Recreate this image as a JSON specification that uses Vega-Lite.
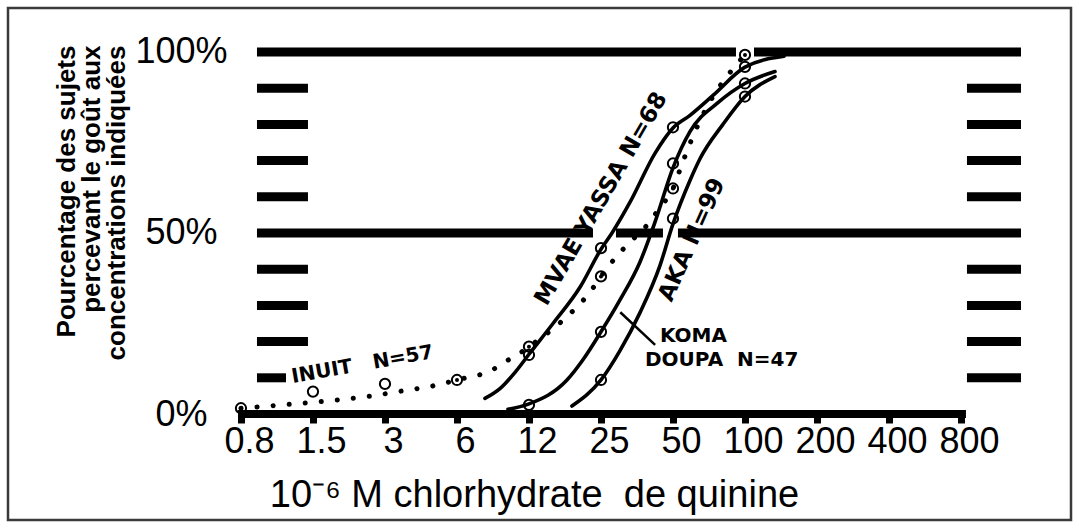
{
  "$schema": "https://vega.github.io/schema/vega-lite/v6.json",
  "width": 1063,
  "height": 512,
  "autosize": {"type": "none"},
  "padding": {"left": 8, "top": 8, "right": 8, "bottom": 8},
  "background": "white",
  "config": {
    "view": {"stroke": "#3a3a3a", "strokeWidth": 2.5},
    "font": "Liberation Sans",
    "axis": {"labelColor": "black", "titleColor": "black"}
  },
  "datasets": {
    "bars": [
      {"conc": 0.9113, "conc2": 91.7, "pct": 100},
      {"conc": 109.06, "conc2": 1425.5, "pct": 100},
      {"conc": 0.9113, "conc2": 23.15, "pct": 50},
      {"conc": 28.88, "conc2": 45.4, "pct": 50},
      {"conc": 52.45, "conc2": 1425.5, "pct": 50},
      {"conc": 0.9113, "conc2": 1.489, "pct": 90},
      {"conc": 0.9113, "conc2": 1.489, "pct": 80},
      {"conc": 0.9113, "conc2": 1.489, "pct": 70},
      {"conc": 0.9113, "conc2": 1.489, "pct": 60},
      {"conc": 0.9113, "conc2": 1.489, "pct": 40},
      {"conc": 0.9113, "conc2": 1.489, "pct": 30},
      {"conc": 0.9113, "conc2": 1.489, "pct": 20},
      {"conc": 0.9113, "conc2": 1.205, "pct": 10},
      {"conc": 847.4, "conc2": 1425.5, "pct": 90},
      {"conc": 847.4, "conc2": 1425.5, "pct": 80},
      {"conc": 847.4, "conc2": 1425.5, "pct": 70},
      {"conc": 847.4, "conc2": 1425.5, "pct": 60},
      {"conc": 847.4, "conc2": 1425.5, "pct": 40},
      {"conc": 847.4, "conc2": 1425.5, "pct": 30},
      {"conc": 847.4, "conc2": 1425.5, "pct": 20},
      {"conc": 847.4, "conc2": 1425.5, "pct": 10}
    ],
    "axisline": [{"conc": 0.759, "conc2": 839.2, "pct": 0}],
    "curves": [
      {"series": "INUIT", "conc": 0.78125, "pct": 1.6},
      {"series": "INUIT", "conc": 1.063, "pct": 2.3},
      {"series": "INUIT", "conc": 1.475, "pct": 3.1},
      {"series": "INUIT", "conc": 1.987, "pct": 3.9},
      {"series": "INUIT", "conc": 2.756, "pct": 5.0},
      {"series": "INUIT", "conc": 3.716, "pct": 6.4},
      {"series": "INUIT", "conc": 4.913, "pct": 7.7},
      {"series": "INUIT", "conc": 6.25, "pct": 9.4},
      {"series": "INUIT", "conc": 8.84, "pct": 12.3},
      {"series": "INUIT", "conc": 9.92, "pct": 14.4},
      {"series": "INUIT", "conc": 11.14, "pct": 16.3},
      {"series": "INUIT", "conc": 12.5, "pct": 18.6},
      {"series": "INUIT", "conc": 16.05, "pct": 24},
      {"series": "INUIT", "conc": 18.02, "pct": 26.9},
      {"series": "INUIT", "conc": 19.84, "pct": 29.6},
      {"series": "INUIT", "conc": 22.05, "pct": 32.9},
      {"series": "INUIT", "conc": 25, "pct": 38},
      {"series": "INUIT", "conc": 28.6, "pct": 43},
      {"series": "INUIT", "conc": 33.06, "pct": 47.5},
      {"series": "INUIT", "conc": 38.18, "pct": 51.5},
      {"series": "INUIT", "conc": 44.1, "pct": 57},
      {"series": "INUIT", "conc": 50, "pct": 62.3},
      {"series": "INUIT", "conc": 54.5, "pct": 69},
      {"series": "INUIT", "conc": 61.8, "pct": 78},
      {"series": "INUIT", "conc": 71.4, "pct": 86.3},
      {"series": "INUIT", "conc": 84.9, "pct": 93.6},
      {"series": "INUIT", "conc": 100, "pct": 99.2},
      {"series": "MVAE YASSA", "conc": 8.18, "pct": 4.3},
      {"series": "MVAE YASSA", "conc": 9.45, "pct": 7},
      {"series": "MVAE YASSA", "conc": 10.93, "pct": 11.5},
      {"series": "MVAE YASSA", "conc": 12.5, "pct": 16.5},
      {"series": "MVAE YASSA", "conc": 15.75, "pct": 25},
      {"series": "MVAE YASSA", "conc": 20.42, "pct": 35},
      {"series": "MVAE YASSA", "conc": 25, "pct": 45.5},
      {"series": "MVAE YASSA", "conc": 27.8, "pct": 50},
      {"series": "MVAE YASSA", "conc": 33.06, "pct": 58.5},
      {"series": "MVAE YASSA", "conc": 42.04, "pct": 72},
      {"series": "MVAE YASSA", "conc": 50, "pct": 79},
      {"series": "MVAE YASSA", "conc": 58.88, "pct": 82.5},
      {"series": "MVAE YASSA", "conc": 73.5, "pct": 88},
      {"series": "MVAE YASSA", "conc": 100, "pct": 95.8},
      {"series": "MVAE YASSA", "conc": 145.6, "pct": 98.8},
      {"series": "KOMA DOUPA", "conc": 10.21, "pct": 1.3},
      {"series": "KOMA DOUPA", "conc": 12.5, "pct": 2.8},
      {"series": "KOMA DOUPA", "conc": 18.02, "pct": 9.4},
      {"series": "KOMA DOUPA", "conc": 21.02, "pct": 15},
      {"series": "KOMA DOUPA", "conc": 25, "pct": 22.7},
      {"series": "KOMA DOUPA", "conc": 30.02, "pct": 31.5},
      {"series": "KOMA DOUPA", "conc": 36.4, "pct": 42},
      {"series": "KOMA DOUPA", "conc": 42.04, "pct": 53},
      {"series": "KOMA DOUPA", "conc": 50, "pct": 68},
      {"series": "KOMA DOUPA", "conc": 58.88, "pct": 78},
      {"series": "KOMA DOUPA", "conc": 77.1, "pct": 86},
      {"series": "KOMA DOUPA", "conc": 100, "pct": 91.3},
      {"series": "KOMA DOUPA", "conc": 133.5, "pct": 94.6},
      {"series": "AKA", "conc": 18.9, "pct": 2.2},
      {"series": "AKA", "conc": 25, "pct": 9.4},
      {"series": "AKA", "conc": 30.02, "pct": 17.5},
      {"series": "AKA", "conc": 36.4, "pct": 28},
      {"series": "AKA", "conc": 44.1, "pct": 41},
      {"series": "AKA", "conc": 50, "pct": 52.5},
      {"series": "AKA", "conc": 58.88, "pct": 64.5},
      {"series": "AKA", "conc": 64.84, "pct": 70.5},
      {"series": "AKA", "conc": 80.88, "pct": 80},
      {"series": "AKA", "conc": 100, "pct": 87.7},
      {"series": "AKA", "conc": 133.5, "pct": 93.2}
    ],
    "points": [
      {"series": "INUIT", "conc": 0.78125, "pct": 1.6, "kind": "dot"},
      {"series": "INUIT", "conc": 1.5625, "pct": 6.2, "kind": "open"},
      {"series": "INUIT", "conc": 3.125, "pct": 8.3, "kind": "open"},
      {"series": "INUIT", "conc": 6.25, "pct": 9.4, "kind": "dot"},
      {"series": "INUIT", "conc": 12.5, "pct": 18.6, "kind": "dot"},
      {"series": "INUIT", "conc": 25, "pct": 38, "kind": "dot"},
      {"series": "INUIT", "conc": 50, "pct": 62.3, "kind": "dot"},
      {"series": "INUIT", "conc": 100, "pct": 99.2, "kind": "dot"},
      {"series": "MVAE YASSA", "conc": 12.5, "pct": 16.3, "kind": "open"},
      {"series": "MVAE YASSA", "conc": 25, "pct": 45.8, "kind": "open"},
      {"series": "MVAE YASSA", "conc": 50, "pct": 79.2, "kind": "open"},
      {"series": "MVAE YASSA", "conc": 100, "pct": 95.9, "kind": "open"},
      {"series": "KOMA DOUPA", "conc": 12.5, "pct": 2.5, "kind": "open"},
      {"series": "KOMA DOUPA", "conc": 25, "pct": 22.7, "kind": "open"},
      {"series": "KOMA DOUPA", "conc": 50, "pct": 69.2, "kind": "open"},
      {"series": "KOMA DOUPA", "conc": 100, "pct": 91.3, "kind": "open"},
      {"series": "AKA", "conc": 25, "pct": 9.4, "kind": "open"},
      {"series": "AKA", "conc": 50, "pct": 54, "kind": "open"},
      {"series": "AKA", "conc": 100, "pct": 87.7, "kind": "open"}
    ]
  },
  "encoding": {
    "x": {
      "field": "conc",
      "type": "quantitative",
      "scale": {"type": "log", "base": 2, "domain": [0.08293, 2307], "nice": false, "zero": false},
      "axis": {
        "values": [0.78125, 1.5625, 3.125, 6.25, 12.5, 25, 50, 100, 200, 400, 800],
        "labelExpr": "datum.value < 1 ? '0.8' : datum.value < 2 ? '1.5' : datum.value < 4 ? '3' : datum.value < 8 ? '6' : datum.value < 13 ? '12' : format(datum.value, 'd')",
        "offset": -106,
        "grid": false,
        "domain": false,
        "ticks": true,
        "tickSize": 9,
        "tickWidth": 7,
        "tickColor": "black",
        "labelFont": "Liberation Sans",
        "labelFontSize": 36,
        "labelPadding": 1,
        "labelOffset": 8,
        "labelFlush": false,
        "labelOverlap": false,
        "labelBound": false,
        "title": "10⁻⁶ M chlorhydrate\u00a0\u00a0de quinine",
        "titleFont": "Liberation Sans",
        "titleFontSize": 38,
        "titleFontWeight": "normal",
        "titleX": 526,
        "titleY": 92,
        "titleAlign": "center",
        "titleAnchor": "start",
        "titleBaseline": "alphabetic"
      }
    },
    "y": {
      "field": "pct",
      "type": "quantitative",
      "scale": {"domain": [-29.28, 112.15], "nice": false, "zero": false},
      "axis": {
        "values": [0, 50, 100],
        "labelExpr": "datum.value + '%'",
        "offset": -200,
        "grid": false,
        "domain": false,
        "ticks": false,
        "labelPadding": 27,
        "labelAlign": "center",
        "labelBaseline": "middle",
        "labelFont": "Liberation Sans",
        "labelFontSize": 36,
        "title": ["Pourcentage des sujets", "percevant le goût aux", "concentrations indiquées"],
        "titleFont": "Liberation Sans",
        "titleFontSize": 26,
        "titleFontWeight": "bold",
        "titleAngle": -90,
        "titleAlign": "right",
        "titleAnchor": "start",
        "titleBaseline": "alphabetic",
        "titleLineHeight": 25,
        "titleX": -134,
        "titleY": 37
      }
    }
  },
  "layer": [
    {
      "data": {"name": "bars"},
      "mark": {"type": "rule", "strokeWidth": 9, "color": "black", "strokeCap": "butt"},
      "encoding": {"x2": {"field": "conc2"}}
    },
    {
      "data": {"name": "axisline"},
      "mark": {"type": "rule", "strokeWidth": 8, "color": "black", "strokeCap": "butt"},
      "encoding": {"x2": {"field": "conc2"}}
    },
    {
      "data": {"name": "curves"},
      "transform": [{"filter": "datum.series !== 'INUIT'"}],
      "mark": {"type": "line", "color": "black", "strokeWidth": 3.6, "interpolate": "monotone", "strokeCap": "round"},
      "encoding": {"detail": {"field": "series"}}
    },
    {
      "data": {"name": "curves"},
      "transform": [{"filter": "datum.series === 'INUIT'"}],
      "mark": {"type": "line", "color": "black", "strokeWidth": 5, "interpolate": "monotone", "strokeCap": "round", "strokeDash": [0.1, 16]},
      "encoding": {"detail": {"field": "series"}}
    },
    {
      "data": {"name": "points"},
      "mark": {"type": "point", "shape": "circle", "filled": false, "size": 105, "strokeWidth": 2, "color": "black", "opacity": 1},
      "encoding": {"detail": {"field": "series"}}
    },
    {
      "data": {"name": "points"},
      "transform": [{"filter": "datum.kind === 'dot'"}],
      "mark": {"type": "circle", "size": 16, "color": "black", "opacity": 1},
      "encoding": {"detail": {"field": "series"}}
    },
    {
      "data": {"values": [{"conc": 30.1, "conc2": 42.1, "pct": 28.1, "pct2": 19.1}]},
      "mark": {"type": "rule", "strokeWidth": 2.5, "color": "black"},
      "encoding": {"x2": {"field": "conc2"}, "y2": {"field": "pct2"}}
    },
    {
      "data": {"values": [{"label": "INUIT\u00a0\u00a0\u00a0N=57", "conc": 1.273, "pct": 10.2}]},
      "mark": {"type": "text", "font": "DejaVu Sans", "fontWeight": "bold", "fontSize": 20, "angle": -10, "align": "left", "baseline": "middle", "color": "black"},
      "encoding": {"text": {"field": "label"}}
    },
    {
      "data": {"values": [{"label": "MVAE YASSA N=68", "conc": 14.0, "pct": 30.6}]},
      "mark": {"type": "text", "font": "DejaVu Sans", "fontWeight": "bold", "fontSize": 23, "angle": -60, "align": "left", "baseline": "middle", "color": "black"},
      "encoding": {"text": {"field": "label"}}
    },
    {
      "data": {"values": [{"label": "AKA N=99", "conc": 46.3, "pct": 31.5}]},
      "mark": {"type": "text", "font": "DejaVu Sans", "fontWeight": "bold", "fontSize": 23, "angle": -66, "align": "left", "baseline": "middle", "color": "black"},
      "encoding": {"text": {"field": "label"}}
    },
    {
      "data": {"values": [{"label": "KOMA", "conc": 44.1, "pct": 19.9}, {"label": "DOUPA\u00a0\u00a0N=47", "conc": 38.18, "pct": 13.3}]},
      "mark": {"type": "text", "font": "DejaVu Sans", "fontWeight": "bold", "fontSize": 20, "align": "left", "baseline": "alphabetic", "color": "black"},
      "encoding": {"text": {"field": "label"}}
    }
  ]
}
